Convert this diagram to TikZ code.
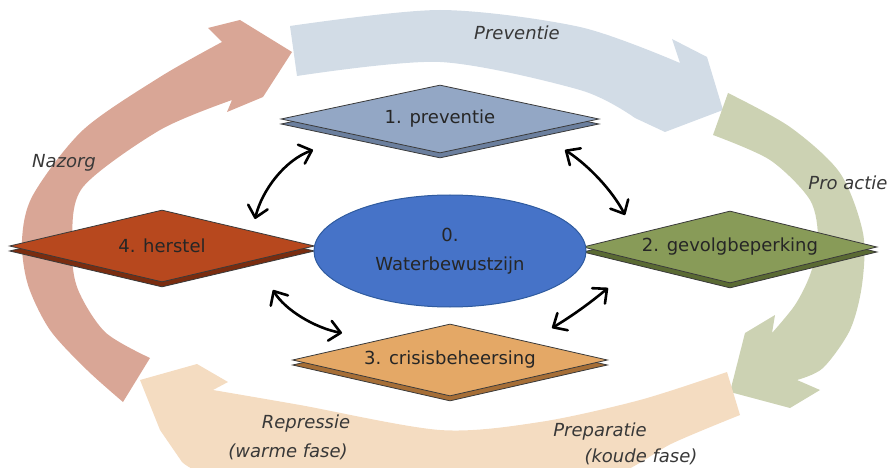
\documentclass[tikz,border=0pt]{standalone}
\usepackage{fontspec}
\setmainfont{DejaVu Sans}
\usetikzlibrary{arrows.meta,shapes.geometric,shadows}
\definecolor{bandBlue}{HTML}{D2DCE6}
\definecolor{bandGreen}{HTML}{CCD2B3}
\definecolor{bandPeach}{HTML}{F4DCC1}
\definecolor{bandPink}{HTML}{D9A696}
\definecolor{faceP}{HTML}{93A7C5}
\definecolor{sideP}{HTML}{6B7F9E}
\definecolor{faceG}{HTML}{889B58}
\definecolor{sideG}{HTML}{5A6A33}
\definecolor{faceC}{HTML}{E4A866}
\definecolor{sideC}{HTML}{A66E36}
\definecolor{faceH}{HTML}{B7481E}
\definecolor{sideH}{HTML}{7A2C0F}
\definecolor{ellFill}{HTML}{4673C8}
\definecolor{ellDraw}{HTML}{2F5B9F}
\definecolor{edgeC}{HTML}{3A3A3A}
\definecolor{txtC}{HTML}{262626}
\definecolor{itC}{HTML}{383838}
\newcommand\labfont{\fontsize{18}{21}\selectfont}
\newcommand\itfont{\fontsize{18}{21}\selectfont\itshape}
\begin{document}
\begin{tikzpicture}[x=1pt,y=-1pt,
  slab/.style={diamond, inner sep=0pt, draw=edgeC, line width=0.8pt, font=\labfont, text=txtC},
  side/.style={copy shadow={shadow xshift=0pt, shadow yshift=-5pt, fill=#1, draw=edgeC, line width=0.8pt}},
  phase/.style={font=\itfont, text=itC, inner sep=0pt},
  link/.style={line width=2.6pt, line cap=round, line join=round,
    {Straight Barb[length=11pt,width=20pt,line cap=round,line join=round]}-{Straight Barb[length=11pt,width=20pt,line cap=round,line join=round]}}]
\useasboundingbox (0,0) rectangle (892,468);
\begin{scope}
\clip (0,0) rectangle (892,468);
% top band: Preventie
\fill[bandBlue] (297,76) -- plot[smooth] coordinates {(290,26) (440,10) (580,27) (680,63)}
  -- (672,39) -- (707,57) -- (723,110) -- (665,132) -- (635,118)
  -- plot[smooth] coordinates {(635,118) (580,90) (440,62) (297,76)} -- cycle;
% right band: Pro actie
\fill[bandGreen] (713,135) -- plot[smooth] coordinates {(728,93) (790,127) (840,173) (863,233) (862,285) (850,330) (823,368) (797,380)}
  -- (820,390) -- (790,408) -- (730,392) -- (745,333) -- (775,315)
  -- plot[smooth] coordinates {(772,333) (795,305) (810,275) (818,240) (810,200) (770,160) (713,135)} -- cycle;
% bottom band: Repressie / Preparatie
\fill[bandPeach] (740,415) -- plot[smooth] coordinates {(727,372) (640,400) (540,422) (440,430) (300,405) (213,390)}
  -- (228,382) -- (197,364) -- (140,380) -- (160,430) -- (182,462)
  -- plot[smooth] coordinates {(182,462) (230,480) (440,500) (600,480) (673,443) (740,415)} -- cycle;
% left band: Nazorg
\fill[bandPink] (150,358) -- plot[smooth] coordinates {(123,402) (87,370) (50,330) (28,285) (22,240) (33,195) (83,130) (160,77) (222,42)}
  -- (208,28) -- (240,20) -- (292,52) -- (263,97) -- (227,112) -- (232,100)
  -- plot[smooth] coordinates {(232,100) (160,130) (83,187) (72,240) (77,287) (105,332) (150,358)} -- cycle;
\end{scope}
% phase labels
\node[phase] (lp) at (517,33) {Preventie};
\node[phase] (la) at (848,183) {Pro actie};
\node[phase] (ln) at (64,163) {Nazorg};
\node[phase] (lr1) at (306,424) {Repressie};
\node[phase] (lr2) at (288,452) {(warme fase)};
\node[phase] (lq1) at (600,432) {Preparatie};
\node[phase] (lq2) at (641,457) {(koude fase)};
% slabs
\node[slab, side=sideP, fill=faceP, aspect=4.68, minimum width=318pt, minimum height=68pt] (p1) at (440,119) {1. preventie};
\node[slab, side=sideG, fill=faceG, aspect=4.08, minimum width=294pt, minimum height=72pt] (p2) at (730,247) {2. gevolgbeperking};
\node[slab, side=sideC, fill=faceC, aspect=4.375, minimum width=315pt, minimum height=72pt] (p3) at (450,360) {3. crisisbeheersing};
\node[slab, side=sideH, fill=faceH, aspect=4.24, minimum width=305pt, minimum height=72pt] (p4) at (162,246) {4. herstel};
% centre
\node[ellipse, draw=ellDraw, line width=1pt, fill=ellFill, minimum width=272pt, minimum height=112pt,
  align=center, font=\fontsize{18}{29}\selectfont, text=txtC] (w) at (450,251) {0.\\Waterbewustzijn};
% links
\coordinate (a1s) at (255,219); \coordinate (a1e) at (313,150);
\coordinate (a2s) at (565,150); \coordinate (a2e) at (625,215);
\coordinate (a3s) at (273,290); \coordinate (a3e) at (342,333);
\coordinate (a4s) at (608,288); \coordinate (a4e) at (552,328);
\draw[link] (a1s) .. controls (262,190) and (285,160) .. (a1e);
\draw[link] (a2s) .. controls (588,165) and (612,190) .. (a2e);
\draw[link] (a3s) .. controls (285,310) and (315,328) .. (a3e);
\draw[link] (a4s) .. controls (590,303) and (572,316) .. (a4e);
\end{tikzpicture}
\end{document}
